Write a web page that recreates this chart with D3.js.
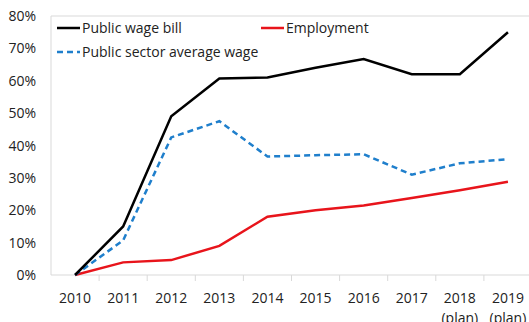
<!DOCTYPE html>
<html>
  <head>
    <meta charset="utf-8">
    <script src="https://d3js.org/d3.v7.min.js"></script>
    <style>
      body { margin: 0; background: #fff; }
      text { font-family: "Open Sans", "Noto Sans", sans-serif; fill: #222; }
    </style>
  </head>
  <body>
    <div id="chart"></div>
  <script>

    // DATA
    const years = ['2010', '2011', '2012', '2013', '2014', '2015', '2016', '2017', '2018', '2019'];
    const yearNotes = ['', '', '', '', '', '', '', '', '(plan)', '(plan)'];
    const wageBill = [0, 15, 49, 60.7, 61, 64, 66.7, 62, 62, 75];
    const employment = [0, 3.9, 4.6, 9, 18, 20, 21.5, 23.8, 26.2, 28.8];
    const avgWage = [0, 10.7, 42.5, 47.5, 36.6, 37, 37.3, 31, 34.5, 35.8];
    const yTicks = [0, 10, 20, 30, 40, 50, 60, 70, 80];

    const W = 529, H = 322;
    const margin = {top: 16, left: 51, bottom: 47, right: -3};

    var svg = d3.select('#chart').append('svg')
	.attr('width', W)
	.attr('height', H);

    var x = d3.scaleBand()
	.domain(years)
	.range([margin.left, W - margin.right]);

    var y = d3.scaleLinear()
	.domain([0, 80])
	.range([H - margin.bottom, margin.top]);

    const axisCol = '#d9d9d9';

    // plot border top + axes
    svg.append('line')
	.attr('x1', margin.left).attr('x2', W)
	.attr('y1', y(80)).attr('y2', y(80))
	.attr('stroke', axisCol).attr('stroke-width', 1);
    svg.append('line')
	.attr('x1', margin.left).attr('x2', margin.left)
	.attr('y1', y(80)).attr('y2', y(0))
	.attr('stroke', axisCol).attr('stroke-width', 1);
    svg.append('line')
	.attr('x1', margin.left).attr('x2', W)
	.attr('y1', y(0)).attr('y2', y(0))
	.attr('stroke', axisCol).attr('stroke-width', 1);

    // x ticks between categories
    svg.selectAll('line.xtick')
	.data(years.slice(1))
	.enter().append('line')
	.attr('class', 'xtick')
	.attr('x1', d => x(d)).attr('x2', d => x(d))
	.attr('y1', y(0)).attr('y2', y(0) + 6)
	.attr('stroke', axisCol);

    // y tick labels
    svg.selectAll('text.ylab')
	.data(yTicks)
	.enter().append('text')
	.attr('class', 'ylab')
	.attr('x', 36)
	.attr('y', d => y(d) + 5)
	.attr('text-anchor', 'end')
	.attr('font-size', 14)
	.text(d => d + '%');

    // x labels
    svg.selectAll('text.xlab')
	.data(years)
	.enter().append('text')
	.attr('class', 'xlab')
	.attr('x', d => x(d) + x.bandwidth() / 2)
	.attr('y', y(0) + 28)
	.attr('text-anchor', 'middle')
	.attr('font-size', 14)
	.text(d => d);
    svg.selectAll('text.xnote')
	.data(years.map((d, i) => [d, yearNotes[i]]).filter(d => d[1]))
	.enter().append('text')
	.attr('class', 'xnote')
	.attr('x', d => x(d[0]) + x.bandwidth() / 2)
	.attr('y', y(0) + 48)
	.attr('text-anchor', 'middle')
	.attr('font-size', 14)
	.text(d => d[1]);

    var line = d3.line()
	.x((d, i) => x(years[i]) + x.bandwidth() / 2)
	.y(d => y(d));

    const series = [
	{name: 'Employment', values: employment, color: '#e8141b', dash: null},
	{name: 'Public sector average wage', values: avgWage, color: '#1f7fcc', dash: '6,4'},
	{name: 'Public wage bill', values: wageBill, color: '#000000', dash: null}
    ];

    series.forEach(function(s) {
	svg.append('path')
	    .datum(s.values)
	    .attr('d', line)
	    .attr('fill', 'none')
	    .attr('stroke', s.color)
	    .attr('stroke-width', 2.5)
	    .attr('stroke-dasharray', s.dash);
    });

    // legend
    const legend = [
	{s: series[2], lx: 57, ly: 28},
	{s: series[0], lx: 261, ly: 28},
	{s: series[1], lx: 57, ly: 52}
    ];
    legend.forEach(function(l) {
	svg.append('line')
	    .attr('x1', l.lx).attr('x2', l.lx + 23)
	    .attr('y1', l.ly).attr('y2', l.ly)
	    .attr('stroke', l.s.color)
	    .attr('stroke-width', 2.5)
	    .attr('stroke-dasharray', l.s.dash);
	svg.append('text')
	    .attr('x', l.lx + 25)
	    .attr('y', l.ly + 5)
	    .attr('font-size', 14)
	    .text(l.s.name);
    });

  </script>
  </body>
</html>
